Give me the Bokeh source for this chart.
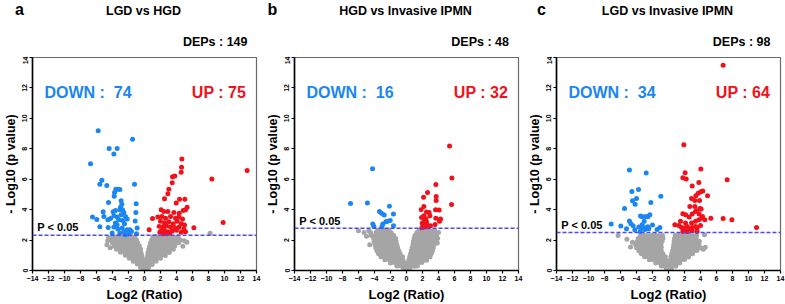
from bokeh.plotting import figure
from bokeh.layouts import row, column
from bokeh.models import Range1d, FixedTicker, Label, Span
from bokeh.embed import file_html
from bokeh.resources import INLINE

# ---------------- data ----------------
panel_letters = ["a", "b", "c"]
titles = ["LGD vs HGD", "HGD vs Invasive IPMN", "LGD vs Invasive IPMN"]
deps = [149, 48, 98]
down_counts = [74, 16, 34]
up_counts = [75, 32, 64]
p_thresholds = [2.32, 2.77, 2.5]
x_ticks = [-14, -12, -10, -8, -6, -4, -2, 0, 2, 4, 6, 8, 10, 12, 14]
y_ticks = [0, 2, 4, 6, 8, 10, 12, 14]

blue_a = [(-5.79, 9.18), (-1.5, 8.63), (-4.42, 8.02), (-3.42, 8.02), (-3.83, 7.65), (-6.75, 7.02),
          (-5.33, 5.93), (-5.58, 5.67), (-4.71, 5.58), (-1.25, 5.67), (-3.58, 5.34), (-3.33, 5.34),
          (-3.08, 5.32), (-3.75, 5.12), (-3.79, 4.88), (-4.5, 4.47), (-2.92, 4.58), (-2.83, 4.36),
          (-1.04, 4.38), (-3.0, 4.16), (-3.08, 3.99), (-3.63, 3.95), (-3.92, 3.86), (-2.75, 3.99),
          (-2.58, 3.82), (-1.08, 3.82), (-5.17, 3.86), (-6.5, 3.51), (-5.96, 3.36), (-5.08, 3.55),
          (-4.58, 3.34), (-4.25, 3.42), (-3.83, 3.6), (-3.42, 3.51), (-2.92, 3.66), (-2.38, 3.55),
          (-3.21, 3.34), (-2.75, 3.29), (-2.17, 3.38), (-1.17, 3.25), (-5.58, 2.88), (-4.54, 2.83),
          (-3.83, 2.86), (-3.33, 2.73), (-2.79, 2.79), (-2.17, 2.68), (-1.83, 2.68), (-2.58, 2.55),
          (-3.08, 2.46), (-0.92, 2.79), (-4.04, 2.46), (-3.63, 3.12), (-2.5, 3.07), (-2.0, 2.42),
          (-1.63, 2.57), (-1.0, 2.42), (-2.38, 2.35), (-3.42, 3.0)]
red_a = [(12.83, 6.58), (8.42, 6.02), (9.83, 3.16), (6.17, 2.81), (4.67, 7.33), (4.63, 6.78),
         (4.58, 6.45), (3.79, 6.21), (3.5, 6.17), (3.46, 5.76), (3.04, 5.34), (2.92, 5.04),
         (2.5, 4.71), (4.38, 4.69), (5.04, 4.69), (3.96, 4.43), (5.33, 4.16), (5.13, 3.99),
         (2.08, 3.99), (2.42, 3.88), (2.92, 3.88), (3.67, 3.82), (4.33, 3.77), (4.83, 3.95),
         (1.0, 3.42), (1.67, 3.51), (2.17, 3.55), (2.63, 3.44), (3.25, 3.55), (3.88, 3.44),
         (4.29, 3.51), (4.75, 3.38), (2.0, 3.23), (2.5, 3.12), (3.04, 3.2), (3.58, 3.07),
         (4.08, 3.23), (4.58, 3.07), (5.0, 2.99), (1.83, 2.9), (2.25, 2.86), (2.75, 2.94),
         (3.25, 2.86), (3.83, 2.81), (4.33, 2.86), (4.92, 2.73), (0.58, 2.68), (2.08, 2.59),
         (2.5, 2.64), (2.92, 2.55), (3.46, 2.59), (4.0, 2.64), (5.13, 2.55), (2.33, 2.42),
         (2.75, 2.42), (3.17, 2.46), (4.58, 2.51), (1.92, 2.51)]
gray_a = [(-0.15, 0.06), (0.0, 0.1), (-0.5, 0.22), (-0.1, 0.25), (-0.9, 0.42), (-0.5, 0.4), (-0.15, 0.45),
          (-1.4, 0.6), (-0.95, 0.63), (-0.5, 0.58), (-0.2, 0.65),
          (-1.9, 0.8), (-1.45, 0.83), (-1.0, 0.78), (-0.6, 0.82), (-0.3, 0.86),
          (-2.4, 1.0), (-1.95, 1.03), (-1.5, 0.98), (-1.05, 1.02), (-0.65, 1.05), (-0.35, 1.0),
          (-3.0, 1.2), (-2.5, 1.22), (-2.05, 1.18), (-1.6, 1.23), (-1.15, 1.2), (-0.75, 1.25), (-0.45, 1.18),
          (-3.5, 1.4), (-3.0, 1.43), (-2.55, 1.38), (-2.1, 1.42), (-1.65, 1.4), (-1.2, 1.45), (-0.8, 1.38), (-0.5, 1.42),
          (-3.8, 1.6), (-3.35, 1.63), (-2.9, 1.58), (-2.45, 1.62), (-2.0, 1.6), (-1.55, 1.65), (-1.1, 1.58), (-0.65, 1.62),
          (-4.0, 1.8), (-3.55, 1.82), (-3.1, 1.78), (-2.65, 1.83), (-2.2, 1.8), (-1.75, 1.84), (-1.3, 1.78), (-0.85, 1.82),
          (-4.2, 2.0), (-3.75, 2.02), (-3.3, 1.98), (-2.85, 2.03), (-2.4, 2.0), (-1.95, 2.04), (-1.5, 1.98), (-1.0, 2.02),
          (-4.0, 2.2), (-3.55, 2.22), (-3.1, 2.18), (-2.65, 2.23), (-2.2, 2.2), (-1.75, 2.24), (-1.25, 2.19),
          (-4.7, 1.7), (-4.5, 2.15), (-4.3, 1.5), (-4.6, 1.95),
          (0.2, 0.08), (0.15, 0.24), (0.5, 0.2), (0.2, 0.4), (0.55, 0.44), (0.95, 0.4),
          (0.25, 0.62), (0.65, 0.58), (1.05, 0.63), (1.45, 0.6),
          (0.3, 0.8), (0.7, 0.84), (1.1, 0.78), (1.55, 0.82), (2.0, 0.8),
          (0.4, 1.02), (0.8, 0.98), (1.25, 1.03), (1.7, 1.0), (2.15, 1.04), (2.6, 0.98),
          (0.45, 1.2), (0.9, 1.24), (1.35, 1.18), (1.8, 1.22), (2.25, 1.2), (2.7, 1.25), (3.1, 1.18),
          (0.55, 1.42), (1.0, 1.38), (1.45, 1.43), (1.9, 1.4), (2.35, 1.44), (2.8, 1.38), (3.25, 1.42), (3.6, 1.4),
          (0.65, 1.6), (1.1, 1.64), (1.55, 1.58), (2.0, 1.62), (2.45, 1.6), (2.9, 1.65), (3.35, 1.58), (3.8, 1.62),
          (0.75, 1.82), (1.2, 1.78), (1.65, 1.83), (2.1, 1.8), (2.55, 1.84), (3.0, 1.78), (3.45, 1.82), (3.9, 1.8), (4.3, 1.84),
          (0.9, 2.0), (1.35, 2.04), (1.8, 1.98), (2.25, 2.02), (2.7, 2.0), (3.15, 2.05), (3.6, 1.98), (4.05, 2.02), (4.5, 2.0),
          (1.05, 2.2), (1.5, 2.24), (1.95, 2.18), (2.4, 2.22), (2.85, 2.2), (3.3, 2.24), (3.75, 2.18), (4.2, 2.22),
          (5.3, 1.85), (5.0, 1.95), (4.8, 1.6), (8.2, 2.45)]

blue_b = [(-4.25, 6.69), (-7.0, 4.40), (-4.88, 4.43), (-2.13, 4.23), (-3.38, 3.88), (-3.13, 3.77),
          (-2.79, 3.64), (-1.63, 3.71), (-2.04, 3.29), (-2.38, 3.23), (-2.58, 3.2), (-4.21, 3.05),
          (-4.08, 2.9), (-2.96, 3.05), (-3.08, 2.88), (-1.63, 2.94)]
red_b = [(5.38, 8.18), (5.67, 6.08), (5.63, 4.34), (3.67, 5.65), (2.63, 5.12), (3.71, 4.86),
         (3.71, 4.6), (2.13, 4.82), (2.17, 4.21), (1.83, 3.99), (2.5, 3.84), (2.83, 3.81),
         (3.63, 3.99), (4.08, 3.97), (2.17, 3.6), (1.88, 3.49), (2.92, 3.6), (2.42, 3.4),
         (2.25, 3.29), (3.67, 3.44), (4.25, 3.38), (4.13, 3.23), (1.96, 3.12), (2.38, 3.12),
         (2.58, 2.99), (2.08, 2.94), (2.25, 2.86), (2.67, 2.86), (3.0, 2.94), (1.92, 2.81),
         (3.58, 3.03), (2.5, 3.2)]
gray_b = [(-0.4, 0.1), (-0.05, 0.12), (-1.2, 0.3), (-0.8, 0.32), (-0.4, 0.28), (-0.1, 0.3),
          (-2.0, 0.5), (-1.55, 0.52), (-1.1, 0.48), (-0.7, 0.5), (-0.3, 0.52),
          (-2.7, 0.7), (-2.25, 0.72), (-1.8, 0.68), (-1.35, 0.7), (-0.9, 0.73), (-0.45, 0.68),
          (-3.2, 0.9), (-2.75, 0.92), (-2.3, 0.88), (-1.85, 0.9), (-1.4, 0.93), (-0.95, 0.88), (-0.5, 0.9),
          (-3.5, 1.1), (-3.05, 1.12), (-2.6, 1.08), (-2.15, 1.1), (-1.7, 1.13), (-1.25, 1.08), (-0.8, 1.1),
          (-3.7, 1.3), (-3.25, 1.32), (-2.8, 1.28), (-2.35, 1.3), (-1.9, 1.33), (-1.45, 1.28), (-0.95, 1.3),
          (-3.85, 1.5), (-3.4, 1.52), (-2.95, 1.48), (-2.5, 1.5), (-2.05, 1.53), (-1.6, 1.48), (-1.1, 1.5),
          (-3.95, 1.7), (-3.5, 1.72), (-3.05, 1.68), (-2.6, 1.7), (-2.15, 1.73), (-1.7, 1.68), (-1.2, 1.7),
          (-4.05, 1.9), (-3.6, 1.92), (-3.15, 1.88), (-2.7, 1.9), (-2.25, 1.93), (-1.8, 1.88), (-1.3, 1.9),
          (-4.1, 2.1), (-3.65, 2.12), (-3.2, 2.08), (-2.75, 2.1), (-2.3, 2.13), (-1.85, 2.08), (-1.35, 2.1),
          (-4.4, 2.3), (-3.9, 2.32), (-3.45, 2.28), (-3.0, 2.3), (-2.55, 2.33), (-2.1, 2.28), (-1.6, 2.3),
          (-4.5, 2.5), (-3.8, 2.52), (-3.3, 2.48), (-2.8, 2.5), (-2.4, 2.53), (-1.9, 2.48),
          (-3.6, 2.65), (-3.0, 2.67), (-2.6, 2.63), (-2.2, 2.66),
          (-6.0, 2.62), (-5.3, 2.5), (-5.0, 2.25), (-4.7, 2.62), (-4.6, 1.7),
          (0.1, 0.1), (0.4, 0.12), (0.15, 0.3), (0.55, 0.32), (0.95, 0.28), (1.35, 0.3),
          (0.2, 0.5), (0.6, 0.52), (1.05, 0.48), (1.5, 0.5), (1.95, 0.52),
          (0.3, 0.7), (0.7, 0.72), (1.15, 0.68), (1.6, 0.7), (2.05, 0.73), (2.5, 0.68),
          (0.4, 0.9), (0.8, 0.92), (1.25, 0.88), (1.7, 0.9), (2.15, 0.93), (2.6, 0.88), (2.95, 0.9),
          (0.5, 1.1), (0.9, 1.12), (1.35, 1.08), (1.8, 1.1), (2.25, 1.13), (2.7, 1.08), (3.1, 1.1),
          (0.6, 1.3), (1.0, 1.32), (1.45, 1.28), (1.9, 1.3), (2.35, 1.33), (2.8, 1.28), (3.25, 1.3),
          (0.7, 1.5), (1.1, 1.52), (1.55, 1.48), (2.0, 1.5), (2.45, 1.53), (2.9, 1.48), (3.35, 1.5),
          (0.8, 1.7), (1.2, 1.72), (1.65, 1.68), (2.1, 1.7), (2.55, 1.73), (3.0, 1.68), (3.45, 1.7),
          (0.85, 1.9), (1.3, 1.92), (1.75, 1.88), (2.2, 1.9), (2.65, 1.93), (3.1, 1.88), (3.55, 1.9),
          (0.95, 2.1), (1.4, 2.12), (1.85, 2.08), (2.3, 2.1), (2.75, 2.13), (3.2, 2.08), (3.65, 2.1),
          (1.05, 2.3), (1.5, 2.32), (1.95, 2.28), (2.4, 2.3), (2.85, 2.33), (3.3, 2.28), (3.75, 2.3),
          (1.3, 2.5), (1.75, 2.52), (2.2, 2.48), (2.65, 2.5), (3.1, 2.53), (3.55, 2.48),
          (1.6, 2.65), (2.3, 2.67), (2.9, 2.63), (3.5, 2.66),
          (3.9, 2.1), (3.85, 1.8), (4.0, 2.5)]

blue_c = [(-4.88, 6.6), (-2.79, 6.41), (-3.75, 5.32), (-4.58, 5.19), (-4.0, 4.73), (-4.5, 4.58),
          (-0.96, 4.88), (-2.21, 4.47), (-4.17, 4.36), (-5.5, 4.08), (-3.5, 3.58), (-3.29, 3.53),
          (-2.88, 3.55), (-2.58, 3.53), (-2.33, 3.66), (-4.88, 3.25), (-4.71, 3.07), (-3.04, 3.23),
          (-7.17, 3.05), (-5.96, 2.92), (-5.25, 2.75), (-4.42, 2.94), (-3.71, 2.86), (-3.21, 2.77),
          (-2.88, 2.81), (-2.58, 2.88), (-2.0, 2.99), (-1.42, 2.7), (-1.08, 2.83), (-3.54, 2.57),
          (-2.96, 2.7), (-4.21, 2.68), (-2.46, 2.75), (-3.29, 3.01)]
red_c = [(6.83, 13.49), (1.92, 8.26), (2.08, 6.43), (1.79, 6.1), (2.21, 6.02), (4.04, 6.67),
         (7.33, 5.97), (2.96, 5.56), (3.79, 5.78), (3.42, 4.91), (3.71, 5.08), (4.04, 5.17),
         (4.29, 5.23), (2.88, 4.73), (3.29, 4.6), (3.88, 4.6), (4.88, 4.91), (2.67, 4.21),
         (3.29, 4.21), (3.92, 4.08), (3.5, 3.92), (1.79, 3.73), (2.13, 3.66), (2.58, 3.51),
         (2.96, 3.71), (3.38, 3.88), (3.83, 3.71), (4.08, 4.05), (4.25, 3.55), (4.54, 3.34),
         (4.13, 3.44), (5.29, 3.44), (6.83, 3.42), (7.92, 3.34), (11.0, 2.83), (0.79, 3.01),
         (1.29, 2.96), (1.63, 2.83), (1.92, 2.79), (2.33, 2.9), (2.54, 2.75), (2.96, 2.83),
         (3.38, 2.9), (3.58, 2.79), (4.0, 2.96), (2.13, 3.12), (2.88, 3.12), (3.38, 3.23),
         (1.79, 2.57), (2.33, 2.57), (2.96, 2.62), (3.58, 2.57), (1.5, 3.23), (3.79, 3.34)]
gray_c = [(-0.3, 0.1), (0.0, 0.12), (-0.9, 0.3), (-0.5, 0.32), (-0.15, 0.28),
          (-1.6, 0.5), (-1.15, 0.52), (-0.7, 0.48), (-0.3, 0.5),
          (-2.4, 0.7), (-1.95, 0.72), (-1.5, 0.68), (-1.05, 0.7), (-0.6, 0.73), (-0.3, 0.68),
          (-3.0, 0.9), (-2.55, 0.92), (-2.1, 0.88), (-1.65, 0.9), (-1.2, 0.93), (-0.75, 0.88), (-0.4, 0.9),
          (-3.4, 1.1), (-2.95, 1.12), (-2.5, 1.08), (-2.05, 1.1), (-1.6, 1.13), (-1.15, 1.08), (-0.7, 1.1),
          (-3.7, 1.3), (-3.25, 1.32), (-2.8, 1.28), (-2.35, 1.3), (-1.9, 1.33), (-1.45, 1.28), (-0.9, 1.3),
          (-4.0, 1.5), (-3.55, 1.52), (-3.1, 1.48), (-2.65, 1.5), (-2.2, 1.53), (-1.75, 1.48), (-1.3, 1.5), (-0.9, 1.52),
          (-4.1, 1.7), (-3.65, 1.72), (-3.2, 1.68), (-2.75, 1.7), (-2.3, 1.73), (-1.85, 1.68), (-1.4, 1.7), (-0.95, 1.72),
          (-3.9, 1.9), (-3.45, 1.92), (-3.0, 1.88), (-2.55, 1.9), (-2.1, 1.93), (-1.65, 1.88), (-1.2, 1.9), (-0.8, 1.92),
          (-3.8, 2.1), (-3.35, 2.12), (-2.9, 2.08), (-2.45, 2.1), (-2.0, 2.13), (-1.55, 2.08), (-1.1, 2.1), (-0.7, 2.12),
          (-3.5, 2.3), (-3.0, 2.32), (-2.55, 2.28), (-2.1, 2.3), (-1.65, 2.33), (-1.2, 2.28), (-0.75, 2.3),
          (-6.3, 2.3), (-5.2, 2.05), (-4.75, 1.55), (-4.5, 1.85),
          (0.1, 0.1), (0.35, 0.12), (0.15, 0.3), (0.55, 0.32), (0.9, 0.28),
          (0.2, 0.5), (0.6, 0.52), (1.0, 0.48), (1.4, 0.5),
          (0.25, 0.7), (0.65, 0.72), (1.1, 0.68), (1.55, 0.7), (2.0, 0.73),
          (0.3, 0.9), (0.7, 0.92), (1.15, 0.88), (1.6, 0.9), (2.05, 0.93), (2.5, 0.88),
          (0.4, 1.1), (0.8, 1.12), (1.25, 1.08), (1.7, 1.1), (2.15, 1.13), (2.6, 1.08), (3.0, 1.1),
          (0.5, 1.3), (0.9, 1.32), (1.35, 1.28), (1.8, 1.3), (2.25, 1.33), (2.7, 1.28), (3.15, 1.3), (3.55, 1.32),
          (0.6, 1.5), (1.0, 1.52), (1.45, 1.48), (1.9, 1.5), (2.35, 1.53), (2.8, 1.48), (3.25, 1.5), (3.7, 1.52), (4.1, 1.48),
          (0.65, 1.7), (1.1, 1.72), (1.55, 1.68), (2.0, 1.7), (2.45, 1.73), (2.9, 1.68), (3.35, 1.7), (3.8, 1.72),
          (0.7, 1.9), (1.15, 1.92), (1.6, 1.88), (2.05, 1.9), (2.5, 1.93), (2.95, 1.88), (3.4, 1.9), (3.85, 1.92),
          (0.75, 2.1), (1.2, 2.12), (1.65, 2.08), (2.1, 2.1), (2.55, 2.13), (3.0, 2.08), (3.45, 2.1),
          (0.85, 2.3), (1.3, 2.32), (1.75, 2.28), (2.2, 2.3), (2.65, 2.33), (3.1, 2.28), (3.5, 2.3),
          (4.6, 1.52), (4.35, 1.4), (4.5, 2.35)]

blues = [blue_a, blue_b, blue_c]
reds = [red_a, red_b, red_c]
grays = [gray_a, gray_b, gray_c]

# ---------------- style / layout ----------------
FONT = "Liberation Sans"
BLUE = "#1a86f2"
RED = "#f2111a"
GRAY = "#a5a5a5"
THR_COLOR = "#4a4af0"

HEADER_H = 56
panel_widths = [262, 262, 261]
panel_x0 = [0, 262, 524]
letter_dx = [19, 10, 17]
title_dx = 143
deps_right_dx = [247, 246.5, 246]


def make_header():
    h = figure(width=785, height=HEADER_H, x_range=Range1d(0, 785), y_range=Range1d(HEADER_H, 0),
               output_backend="svg", toolbar_location=None,
               x_axis_type=None, y_axis_type=None,
               min_border_left=0, min_border_right=0, min_border_top=0, min_border_bottom=0)
    h.grid.visible = False
    h.outline_line_color = None
    h.background_fill_color = "white"
    h.border_fill_color = "white"
    for i in range(3):
        x0 = panel_x0[i]
        h.add_layout(Label(x=x0 + letter_dx[i], y=8.5, text=panel_letters[i], text_font=FONT,
                           text_font_style="bold", text_font_size="16px", text_color="black",
                           text_baseline="middle", text_align="center"))
        h.add_layout(Label(x=x0 + title_dx, y=10.5, text=titles[i], text_font=FONT,
                           text_font_style="bold", text_font_size="12.5px", text_color="black",
                           text_baseline="middle", text_align="center"))
        h.add_layout(Label(x=x0 + deps_right_dx[i], y=41.5, text=f"DEPs : {deps[i]}", text_font=FONT,
                           text_font_style="bold", text_font_size="12.5px", text_color="black",
                           text_baseline="middle", text_align="right"))
    return h


def make_panel(i):
    right_border = 6 if i < 2 else 5
    p = figure(width=panel_widths[i], height=304 - HEADER_H,
               x_range=Range1d(-14, 14), y_range=Range1d(0, 14),
               output_backend="svg", toolbar_location=None,
               min_border_left=32, min_border_right=right_border,
               min_border_top=1, min_border_bottom=33,
               x_axis_label="Log2 (Ratio)", y_axis_label="- Log10 (p value)")
    p.grid.visible = False
    p.background_fill_color = "white"
    p.border_fill_color = "white"
    p.outline_line_color = "#6a6a6a"
    p.outline_line_width = 1.2

    for ax, ticks in ((p.xaxis[0], x_ticks), (p.yaxis[0], y_ticks)):
        ax.ticker = FixedTicker(ticks=ticks, minor_ticks=[])
        ax.axis_line_color = "black"
        ax.axis_line_width = 1.6
        ax.major_tick_line_color = "black"
        ax.major_tick_line_width = 1.2
        ax.major_tick_in = 0
        ax.major_tick_out = 3
        ax.minor_tick_line_color = None
        ax.major_label_text_font = FONT
        ax.major_label_text_font_style = "bold"
        ax.major_label_text_font_size = "7px"
        ax.major_label_text_color = "black"
        ax.major_label_standoff = 2
        ax.axis_label_text_font = FONT
        ax.axis_label_text_font_style = "bold"
        ax.axis_label_text_color = "black"
        ax.axis_label_standoff = 3
    p.xaxis[0].axis_label_text_font_size = "13px"
    p.yaxis[0].axis_label_text_font_size = "12.5px"
    p.yaxis[0].major_label_orientation = "vertical"
    p.yaxis[0].axis_label_standoff = 2

    g = grays[i]
    p.scatter([pt[0] for pt in g], [pt[1] for pt in g], size=5, marker="circle",
              fill_color=GRAY, line_color=None)
    b = blues[i]
    p.scatter([pt[0] for pt in b], [pt[1] for pt in b], size=5, marker="circle",
              fill_color=BLUE, line_color=None)
    r = reds[i]
    p.scatter([pt[0] for pt in r], [pt[1] for pt in r], size=5, marker="circle",
              fill_color=RED, line_color=None)

    p.add_layout(Span(location=p_thresholds[i], dimension="width", line_color=THR_COLOR,
                      line_dash="4 2", line_width=1.5))

    p.add_layout(Label(x=-13.4, y=p_thresholds[i] + 0.12, text="P < 0.05", text_font=FONT,
                       text_font_style="bold", text_font_size="11px", text_color="black",
                       text_baseline="bottom", text_align="left"))
    p.add_layout(Label(x=-12.5, y=11.7, text=f"DOWN :\u00a0 {down_counts[i]}", text_font=FONT,
                       text_font_style="bold", text_font_size="16px", text_color=BLUE,
                       text_baseline="middle", text_align="left"))
    p.add_layout(Label(x=12.7, y=11.7, text=f"UP : {up_counts[i]}", text_font=FONT,
                       text_font_style="bold", text_font_size="16px", text_color=RED,
                       text_baseline="middle", text_align="right"))
    return p


header = make_header()
panels = [make_panel(i) for i in range(3)]
layout = column(header, row(*panels, spacing=0), spacing=0)

open("out.html", "w").write(file_html(layout, INLINE))
